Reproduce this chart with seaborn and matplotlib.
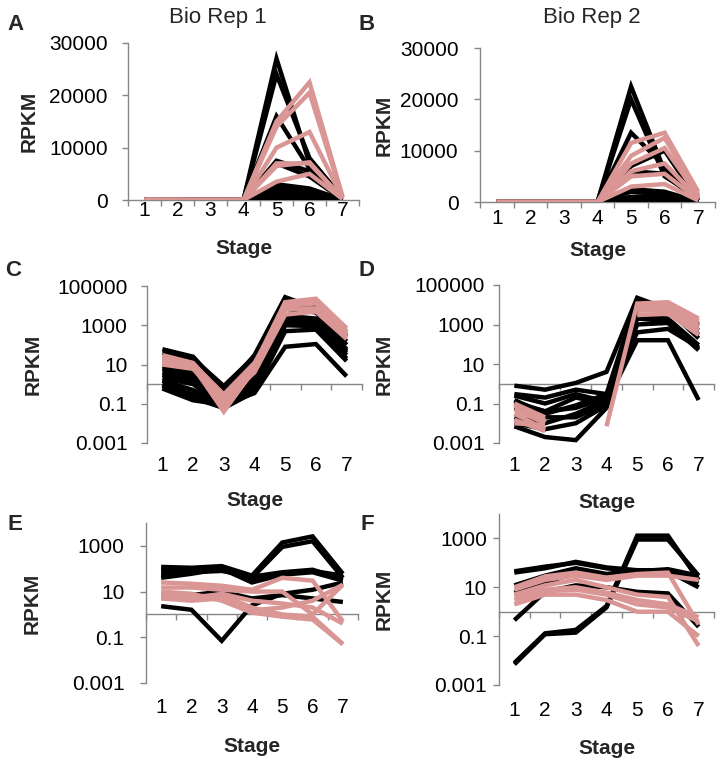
import numpy as np
import pandas as pd
import matplotlib
matplotlib.use("Agg")
import matplotlib.pyplot as plt
import seaborn as sns
from matplotlib.ticker import FixedLocator, NullLocator

sns.set_theme(style="white")
plt.rcParams["font.family"] = ["Liberation Sans", "DejaVu Sans"]

# ---------------- data ----------------
stages = [1, 2, 3, 4, 5, 6, 7]
stage_labels = ["1", "2", "3", "4", "5", "6", "7"]
stage_bounds = [0.5, 1.5, 2.5, 3.5, 4.5, 5.5, 6.5, 7.5]

# Bio Rep 1, highly induced genes (panels A and C)
rep1_high_black = [
    [60, 25, 0.5, 30, 27000, 7000, 300],
    [40, 20, 0.8, 25, 24000, 8000, 400],
    [20, 12, 0.3, 15, 16000, 6000, 250],
    [8, 5, 0.2, 8, 7500, 5500, 150],
    [6, 3, 0.15, 5, 7000, 4500, 100],
    [4, 2, 0.1, 3, 3000, 2200, 60],
    [3, 1.5, 0.12, 2, 2500, 2000, 50],
    [2, 1, 0.08, 1.5, 2000, 1600, 40],
    [1.5, 0.5, 0.1, 0.8, 1500, 1200, 30],
    [1, 0.3, 0.07, 0.5, 1000, 900, 20],
    [0.6, 0.15, 0.09, 0.35, 80, 110, 2.5],
    [0.8, 0.2, 0.06, 0.4, 500, 600, 15],
]
rep1_high_pink = [
    [30, 12, 0.2, 10, 15000, 22500, 700],
    [20, 10, 0.1, 8, 14000, 20500, 500],
    [15, 8, 0.04, 6, 10000, 13000, 400],
    [12, 7, 0.06, 5, 7000, 7000, 300],
    [10, 6, 0.15, 4, 3500, 5000, 200],
    [25, 11, 0.3, 12, 6500, 7200, 250],
]

# Bio Rep 2, highly induced genes (panels B and D)
rep2_high_black = [
    [0.8, 0.5, 1.1, 4, 22500, 6000, 1000],
    [0.3, 0.2, 0.5, 0.3, 20000, 5000, 800],
    [0.12, 0.04, 0.06, 0.2, 13500, 7000, 500],
    [0.06, 0.02, 0.02, 0.1, 7000, 10000, 300],
    [0.007, 0.002, 0.0014, 0.06, 6000, 5500, 200],
    [0.01, 0.005, 0.01, 0.08, 2500, 2000, 90],
    [0.02, 0.01, 0.03, 0.15, 2000, 1500, 60],
    [0.1, 0.04, 0.2, 0.1, 1000, 1200, 50],
    [0.15, 0.03, 0.08, 0.3, 400, 600, 70],
    [0.25, 0.1, 0.3, 0.12, 160, 160, 0.15],
]
rep2_high_pink = [
    [0.08, 0.015, 0, 0.007, 11500, 13500, 2000],
    [0.05, 0.01, 0, 0, 9000, 12500, 1500],
    [0.03, 0.005, 0, 0, 7500, 10500, 1200],
    [0.015, 0.004, 0, 0, 6000, 7500, 800],
    [0.01, 0.008, 0, 0, 5000, 5500, 500],
    [0.1, 0.02, 0, 0, 3000, 3500, 300],
]

# Bio Rep 1, other genes (panel E)
rep1_low_black = [
    [120, 110, 130, 50, 1400, 2600, 60],
    [90, 100, 120, 40, 900, 1600, 40],
    [70, 80, 100, 30, 60, 80, 50],
    [50, 70, 80, 45, 70, 90, 35],
    [40, 60, 100, 25, 55, 70, 30],
    [2.3, 1.6, 0.07, 2.5, 8, 12, 25],
    [7, 7, 10, 5, 7, 5, 3.5],
]
rep1_low_pink = [
    [25, 22, 18, 12, 40, 30, 0.5],
    [15, 15, 12, 10, 10, 1.0, 20],
    [8, 6, 7, 2, 1.0, 0.8, 0.05],
    [5, 4, 5, 1.5, 2, 4, 20],
    [10, 8, 4, 1.2, 0.8, 0.6, 0.05],
    [6, 5, 8, 4, 3, 2, 0.4],
]

# Bio Rep 2, other genes (panel F)
rep2_low_black = [
    [40, 60, 110, 65, 50, 50, 25],
    [45, 70, 100, 60, 45, 55, 30],
    [12, 30, 60, 35, 50, 45, 10],
    [0.008, 0.13, 0.18, 1.7, 1300, 1300, 20],
    [0.007, 0.12, 0.14, 1.5, 900, 900, 30],
    [0.45, 6.5, 12, 10, 6.5, 5.6, 0.24],
    [6, 15, 40, 25, 40, 40, 15],
]
rep2_low_pink = [
    [10, 28, 40, 25, 35, 40, 0.3],
    [8, 20, 30, 20, 30, 30, 20],
    [5, 12, 20, 10, 5, 4, 0.04],
    [3, 7, 8, 5, 2, 1.5, 0.4],
    [2, 5, 5, 3, 1.0, 1.0, 0.1],
    [4, 8, 10, 6, 3, 2, 0.6],
]

lin_ticks = [0, 10000, 20000, 30000]
lin_labels = ["0", "10000", "20000", "30000"]
log_ticks_wide = [0.001, 0.1, 10, 1000, 100000]
log_labels_wide = ["0.001", "0.1", "10", "1000", "100000"]
log_ticks_narrow = [0.001, 0.1, 10, 1000]
log_labels_narrow = ["0.001", "0.1", "10", "1000"]

titles = ["Bio Rep 1", "Bio Rep 2"]
letters = ["A", "B", "C", "D", "E", "F"]


def to_long(lines):
    rows = []
    for gi, vals in enumerate(lines):
        for s, v in zip(stages, vals):
            rows.append({"gene": gi, "stage": s, "rpkm": v})
    return pd.DataFrame(rows)


# ---------------- layout ----------------
W, H = 723, 767
fig = plt.figure(figsize=(W / 100, H / 100), dpi=100)
fig.patch.set_facecolor("white")

GRAY = "#868686"
PINK = "#D99694"
TICK_FS = 15
LAB_FS = 15

panels = [
    # L, R, T, B, xpad, ypad, rpkm_x, stage_y
    dict(box=(128, 359, 43, 200), black=rep1_high_black, pink=rep1_high_pink, log=False,
         ylim=(0, 30000), yt=lin_ticks, yl=lin_labels, xpad=0.5, ypad=10.5, rx=29, sy=248),
    dict(box=(480, 715, 48, 202), black=rep2_high_black, pink=rep2_high_pink, log=False,
         ylim=(0, 30000), yt=lin_ticks, yl=lin_labels, xpad=5, ypad=11.5, rx=384, sy=250),
    dict(box=(147, 362, 286, 443), black=rep1_high_black, pink=rep1_high_pink, log=True,
         ylim=(0.001, 100000), yt=log_ticks_wide, yl=log_labels_wide, xpad=9.5, ypad=10, rx=33, sy=500),
    dict(box=(499, 714, 285, 443), black=rep2_high_black, pink=rep2_high_pink, log=True,
         ylim=(0.001, 100000), yt=log_ticks_wide, yl=log_labels_wide, xpad=9.5, ypad=6.5, rx=384, sy=502),
    dict(box=(146, 358, 523, 683), black=rep1_low_black, pink=rep1_low_pink, log=True,
         ylim=(0.001, 10000), yt=log_ticks_narrow, yl=log_labels_narrow, xpad=11, ypad=11.5, rx=32, sy=747),
    dict(box=(499, 714, 514, 685), black=rep2_low_black, pink=rep2_low_pink, log=True,
         ylim=(0.001, 10000), yt=log_ticks_narrow, yl=log_labels_narrow, xpad=11.5, ypad=4.5, rx=384, sy=748),
]

letter_pos = [(15, 25), (367, 25), (13, 270), (366, 270), (15, 524), (367, 524)]
title_pos = [(218, 17), (592, 17)]

for i, p in enumerate(panels):
    L, R, T, B = p["box"]
    ax = fig.add_axes([L / W, 1 - B / H, (R - L) / W, (B - T) / H])
    ax.set_facecolor("none")

    sns.lineplot(data=to_long(p["black"]), x="stage", y="rpkm", units="gene",
                 estimator=None, sort=False, color="black", linewidth=3.2,
                 ax=ax, legend=False)
    sns.lineplot(data=to_long(p["pink"]), x="stage", y="rpkm", units="gene",
                 estimator=None, sort=False, color=PINK, linewidth=3.2,
                 ax=ax, legend=False)
    for ln in ax.lines:
        ln.set_solid_joinstyle("miter")
        ln.set_solid_capstyle("butt")

    if p["log"]:
        ax.set_yscale("log", nonpositive="mask")
        base = 1
    else:
        base = 0
    ax.set_ylim(*p["ylim"])
    ax.set_xlim(stage_bounds[0], stage_bounds[-1])

    ax.yaxis.set_major_locator(FixedLocator(p["yt"]))
    ax.yaxis.set_minor_locator(NullLocator())
    ax.set_yticklabels(p["yl"])
    ax.set_xticks(stages)
    ax.set_xticklabels(stage_labels)
    ax.xaxis.set_minor_locator(NullLocator())

    ax.tick_params(axis="y", which="major", direction="out", length=4, width=1,
                   color=GRAY, labelsize=TICK_FS, pad=p["ypad"], left=True,
                   labelcolor="black")
    ax.tick_params(axis="x", which="major", length=0, labelsize=TICK_FS,
                   pad=p["xpad"], labelcolor="black")
    for s in ["top", "right", "bottom"]:
        ax.spines[s].set_visible(False)
    ax.spines["left"].set_color(GRAY)
    ax.spines["left"].set_linewidth(1)
    ax.set_xlabel("")
    ax.set_ylabel("")
    ax.grid(False)

    # horizontal category axis crossing at y = base
    sec = ax.secondary_xaxis(base, transform=ax.transData)
    sec.set_alignment("bottom")
    sec.set_ticks(stage_bounds)
    sec.tick_params(axis="x", direction="out", length=4.5, width=1, color=GRAY,
                    labelbottom=False, labeltop=False)
    sec.spines["bottom"].set_color(GRAY)
    sec.spines["bottom"].set_linewidth(1)

    # axis titles
    fig.text(p["rx"] / W, 1 - ((T + B) / 2) / H, "RPKM", rotation=90,
             ha="center", va="center", fontsize=LAB_FS, fontweight="bold")
    fig.text(((L + R) / 2) / W, 1 - p["sy"] / H, "Stage",
             ha="center", va="center", fontsize=LAB_FS, fontweight="bold")

    lx, ly = letter_pos[i]
    fig.text(lx / W, 1 - ly / H, letters[i], ha="center", va="center",
             fontsize=16, fontweight="bold")

for (tx, ty), t in zip(title_pos, titles):
    fig.text(tx / W, 1 - ty / H, t, ha="center", va="center", fontsize=16)

fig.savefig("out.png", dpi=100, facecolor="white")
